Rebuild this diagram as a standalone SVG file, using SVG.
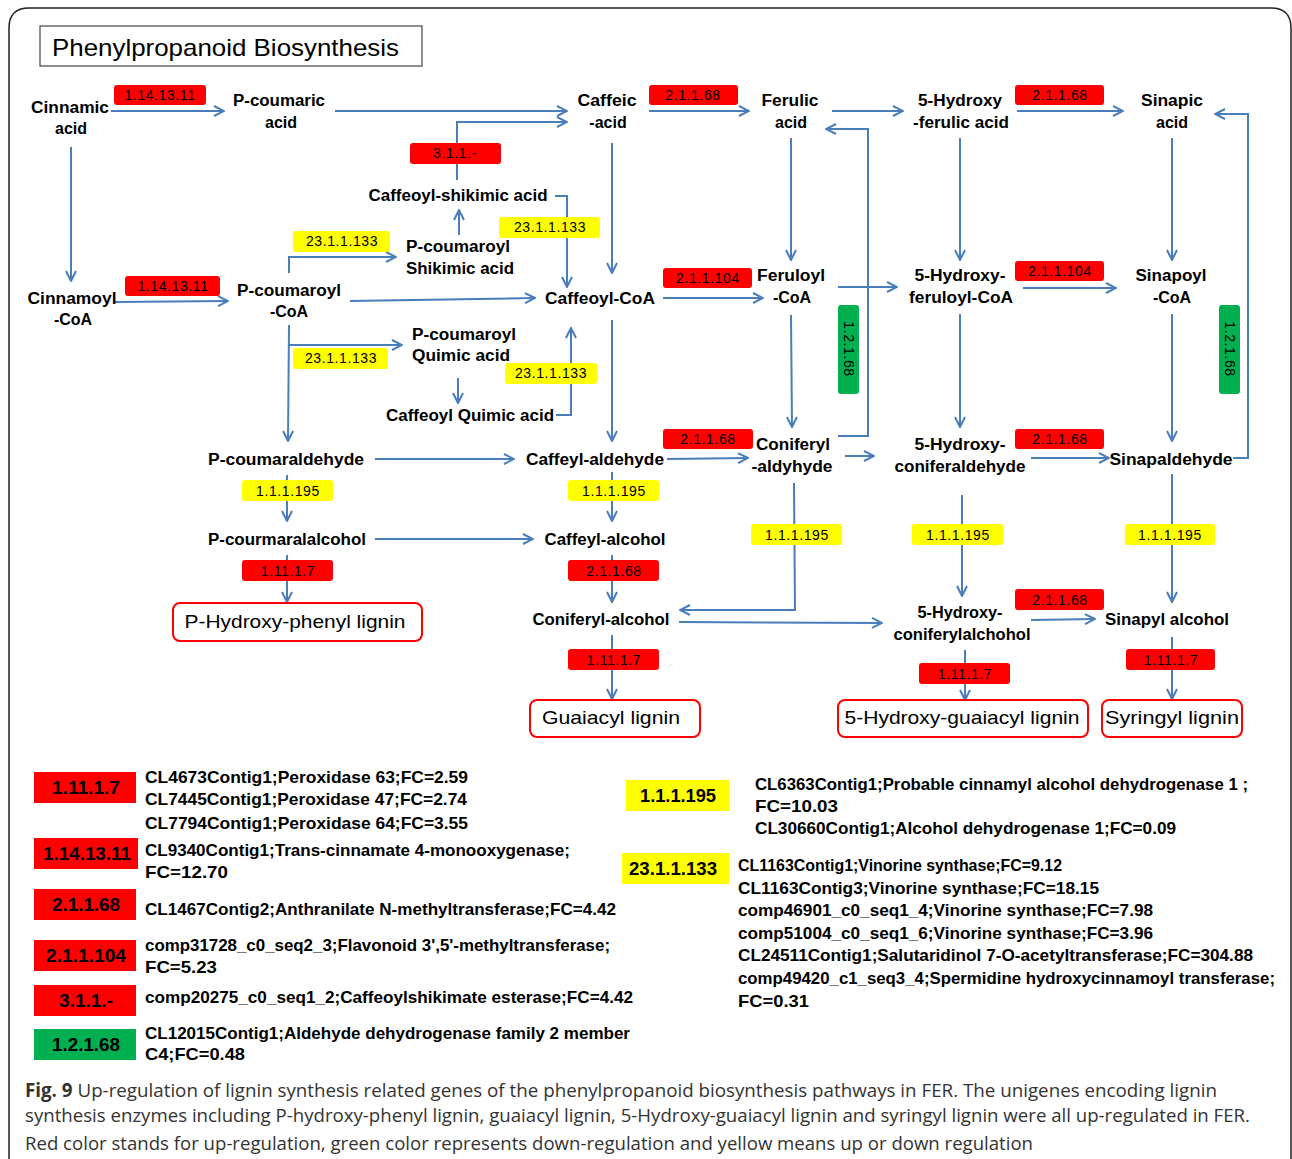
<svg xmlns="http://www.w3.org/2000/svg" width="1292" height="1159" viewBox="0 0 1292 1159">
<defs>
<marker id="ah" viewBox="0 0 12 12" refX="11" refY="6" markerWidth="12" markerHeight="12" markerUnits="userSpaceOnUse" orient="auto">
<path d="M1,1 L11,6 L1,11" fill="none" stroke="#4A7EBB" stroke-width="2"/>
</marker>
<style>
.lbl{font-family:"Liberation Sans",Arial,sans-serif;font-weight:bold;font-size:16px;fill:#000;text-anchor:middle}
.ec{font-family:"Liberation Sans",Arial,sans-serif;font-size:14px;fill:#000;text-anchor:middle;letter-spacing:0.6px}
.red{fill:#FF0000}
.yel{fill:#FFFF00}
.grn{fill:#00B050}
.conn path{fill:none;stroke:#4A7EBB;stroke-width:2;marker-end:url(#ah)}
.lig rect{fill:#fff;stroke:#FF0000;stroke-width:2}
.lig text{font-family:"Liberation Sans",Arial,sans-serif;font-size:19px;fill:#000;text-anchor:middle}
.lg{font-family:"Liberation Sans",Arial,sans-serif;font-weight:bold;font-size:17px;fill:#000}
.lgb{font-family:"Liberation Sans",Arial,sans-serif;font-weight:bold;font-size:18px;fill:#000;text-anchor:middle}
.cap{font-family:"Open Sans","Liberation Sans",sans-serif;font-size:19px;fill:#333}
</style>
</defs>
<rect width="1292" height="1159" fill="#fff"/>
<path d="M9,1162 V28 Q9,8 29,8 H1271 Q1291,8 1291,28 V1162" fill="none" stroke="#222" stroke-width="1.5"/>
<g id="title">
<rect x="40" y="26" width="382" height="40" fill="#fff" stroke="#444" stroke-width="1.2"/>
<text x="52" y="56" font-family="Liberation Sans,Arial,sans-serif" font-size="24" textLength="347" lengthAdjust="spacingAndGlyphs">Phenylpropanoid Biosynthesis</text>
</g>

<g class="conn" id="connectors">
<path d="M111,111 H224"/>
<path d="M71,147 V281"/>
<path d="M335,111 H567"/>
<path d="M457,180 V122 H567"/>
<path d="M649,111 H749"/>
<path d="M832,111 H903"/>
<path d="M1017,111 H1123"/>
<path d="M612,143 V273"/>
<path d="M791,138 V260"/>
<path d="M960,138 V260"/>
<path d="M1172,138 V260"/>
<path d="M115,302 L228,301"/>
<path d="M350,301 L535,298"/>
<path d="M663,298 H763"/>
<path d="M838,287 H897"/>
<path d="M1023,288 H1116"/>
<path d="M289,273 V257 H396"/>
<path d="M459,235 V210"/>
<path d="M555,196 H567 V287"/>
<path d="M289,325 L288,441"/>
<path d="M289,345 H402"/>
<path d="M458,378 V403"/>
<path d="M556,415 H571 V328"/>
<path d="M612,320 V441"/>
<path d="M791,315 L792,427"/>
<path d="M960,314 V427"/>
<path d="M1172,314 V441"/>
<path d="M838,436 H868 V129 H826"/>
<path d="M1233,458 H1248 V114 H1215"/>
<path d="M375,459 H514"/>
<path d="M667,459 L748,458"/>
<path d="M845,456 H874"/>
<path d="M1031,458 H1109"/>
<path d="M287,475 V521"/>
<path d="M612,472 V521"/>
<path d="M375,539 H533"/>
<path d="M794,483 L795,610 H680"/>
<path d="M962,495 V596"/>
<path d="M1172,474 V602"/>
<path d="M287,555 V602"/>
<path d="M612,555 V602"/>
<path d="M679,622 L882,623"/>
<path d="M1031,620 L1095,619"/>
<path d="M612,635 V699"/>
<path d="M965,650 V700"/>
<path d="M1172,637 V699"/>
</g>

<g id="n-cinnamic-acid"><text class="lbl" x="70" y="113" textLength="78" lengthAdjust="spacingAndGlyphs">Cinnamic</text><text class="lbl" x="71" y="134">acid</text></g>
<g id="n-pcoumaric-acid"><text class="lbl" x="279" y="106" textLength="92" lengthAdjust="spacingAndGlyphs">P-coumaric</text><text class="lbl" x="281" y="128">acid</text></g>
<g id="n-caffeic-acid"><text class="lbl" x="607" y="106" textLength="59" lengthAdjust="spacingAndGlyphs">Caffeic</text><text class="lbl" x="608" y="128">-acid</text></g>
<g id="n-ferulic-acid"><text class="lbl" x="790" y="106" textLength="57" lengthAdjust="spacingAndGlyphs">Ferulic</text><text class="lbl" x="791" y="128">acid</text></g>
<g id="n-5hydroxy-ferulic"><text class="lbl" x="960" y="106" textLength="84" lengthAdjust="spacingAndGlyphs">5-Hydroxy</text><text class="lbl" x="961" y="128" textLength="96" lengthAdjust="spacingAndGlyphs">-ferulic acid</text></g>
<g id="n-sinapic-acid"><text class="lbl" x="1172" y="106" textLength="62" lengthAdjust="spacingAndGlyphs">Sinapic</text><text class="lbl" x="1172" y="128">acid</text></g>

<g id="n-cinnamoyl-coa"><text class="lbl" x="72" y="304" textLength="89" lengthAdjust="spacingAndGlyphs">Cinnamoyl</text><text class="lbl" x="73" y="325">-CoA</text></g>
<g id="n-pcoumaroyl-coa"><text class="lbl" x="289" y="296" textLength="104" lengthAdjust="spacingAndGlyphs">P-coumaroyl</text><text class="lbl" x="289" y="317">-CoA</text></g>
<g id="n-caffeoyl-coa"><text class="lbl" x="600" y="304" textLength="110" lengthAdjust="spacingAndGlyphs">Caffeoyl-CoA</text></g>
<g id="n-feruloyl-coa"><text class="lbl" x="791" y="281" textLength="68" lengthAdjust="spacingAndGlyphs">Feruloyl</text><text class="lbl" x="792" y="303">-CoA</text></g>
<g id="n-5hydroxy-feruloyl-coa"><text class="lbl" x="960" y="281" textLength="91" lengthAdjust="spacingAndGlyphs">5-Hydroxy-</text><text class="lbl" x="961" y="303" textLength="104" lengthAdjust="spacingAndGlyphs">feruloyl-CoA</text></g>
<g id="n-sinapoyl-coa"><text class="lbl" x="1171" y="281" textLength="71" lengthAdjust="spacingAndGlyphs">Sinapoyl</text><text class="lbl" x="1172" y="303">-CoA</text></g>

<g id="n-pcoumaroyl-shikimic"><text class="lbl" x="458" y="252" textLength="104" lengthAdjust="spacingAndGlyphs">P-coumaroyl</text><text class="lbl" x="460" y="274" textLength="108" lengthAdjust="spacingAndGlyphs">Shikimic acid</text></g>
<g id="n-caffeoyl-shikimic"><text class="lbl" x="458" y="201" textLength="179" lengthAdjust="spacingAndGlyphs">Caffeoyl-shikimic acid</text></g>
<g id="n-pcoumaroyl-quimic"><text class="lbl" x="464" y="340" textLength="104" lengthAdjust="spacingAndGlyphs">P-coumaroyl</text><text class="lbl" x="461" y="361" textLength="98" lengthAdjust="spacingAndGlyphs">Quimic acid</text></g>
<g id="n-caffeoyl-quimic"><text class="lbl" x="470" y="421" textLength="168" lengthAdjust="spacingAndGlyphs">Caffeoyl Quimic acid</text></g>

<g id="n-pcoumaraldehyde"><text class="lbl" x="286" y="465" textLength="156" lengthAdjust="spacingAndGlyphs">P-coumaraldehyde</text></g>
<g id="n-caffeyl-aldehyde"><text class="lbl" x="595" y="465" textLength="138" lengthAdjust="spacingAndGlyphs">Caffeyl-aldehyde</text></g>
<g id="n-coniferyl-aldyhyde"><text class="lbl" x="793" y="450" textLength="74" lengthAdjust="spacingAndGlyphs">Coniferyl</text><text class="lbl" x="792" y="472" textLength="81" lengthAdjust="spacingAndGlyphs">-aldyhyde</text></g>
<g id="n-5hydroxy-coniferaldehyde"><text class="lbl" x="960" y="450" textLength="91" lengthAdjust="spacingAndGlyphs">5-Hydroxy-</text><text class="lbl" x="960" y="472" textLength="131" lengthAdjust="spacingAndGlyphs">coniferaldehyde</text></g>
<g id="n-sinapaldehyde"><text class="lbl" x="1171" y="465" textLength="123" lengthAdjust="spacingAndGlyphs">Sinapaldehyde</text></g>

<g id="n-pcourmaralalcohol"><text class="lbl" x="287" y="545" textLength="158" lengthAdjust="spacingAndGlyphs">P-courmaralalcohol</text></g>
<g id="n-caffeyl-alcohol"><text class="lbl" x="605" y="545" textLength="121" lengthAdjust="spacingAndGlyphs">Caffeyl-alcohol</text></g>
<g id="n-coniferyl-alcohol"><text class="lbl" x="601" y="625" textLength="137" lengthAdjust="spacingAndGlyphs">Coniferyl-alcohol</text></g>
<g id="n-5hydroxy-coniferylalchohol"><text class="lbl" x="960" y="618" textLength="85" lengthAdjust="spacingAndGlyphs">5-Hydroxy-</text><text class="lbl" x="962" y="640" textLength="137" lengthAdjust="spacingAndGlyphs">coniferylalchohol</text></g>
<g id="n-sinapyl-alcohol"><text class="lbl" x="1167" y="625" textLength="124" lengthAdjust="spacingAndGlyphs">Sinapyl alcohol</text></g>

<g class="lig" id="n-phydroxyphenyl-lignin"><rect x="173" y="603" width="249" height="38" rx="7"/><text x="295" y="628" textLength="221" lengthAdjust="spacingAndGlyphs">P-Hydroxy-phenyl lignin</text></g>
<g class="lig" id="n-guaiacyl-lignin"><rect x="530" y="700" width="170" height="37" rx="7"/><text x="611" y="724" textLength="138" lengthAdjust="spacingAndGlyphs">Guaiacyl lignin</text></g>
<g class="lig" id="n-5hydroxyguaiacyl-lignin"><rect x="838" y="700" width="250" height="37" rx="7"/><text x="962" y="724" textLength="235" lengthAdjust="spacingAndGlyphs">5-Hydroxy-guaiacyl lignin</text></g>
<g class="lig" id="n-syringyl-lignin"><rect x="1102" y="700" width="140" height="37" rx="7"/><text x="1172" y="724" textLength="134" lengthAdjust="spacingAndGlyphs">Syringyl lignin</text></g>

<g id="enzymes">
<g id="e1"><rect class="red" x="114" y="85" width="92" height="20" rx="3"/><text class="ec" x="160" y="100">1.14.13.11</text></g>
<g id="e2"><rect class="red" x="649" y="85" width="89" height="20" rx="3"/><text class="ec" x="693" y="100">2.1.1.68</text></g>
<g id="e3"><rect class="red" x="1015" y="85" width="89" height="20" rx="3"/><text class="ec" x="1060" y="100">2.1.1.68</text></g>
<g id="e4"><rect class="red" x="410" y="143" width="91" height="21" rx="3"/><text class="ec" x="455" y="158">3.1.1.-</text></g>
<g id="e5"><rect class="yel" x="499" y="217" width="101" height="21" rx="3"/><text class="ec" x="550" y="232">23.1.1.133</text></g>
<g id="e6"><rect class="yel" x="293" y="231" width="97" height="21" rx="3"/><text class="ec" x="342" y="246">23.1.1.133</text></g>
<g id="e7"><rect class="red" x="125" y="276" width="95" height="20" rx="3"/><text class="ec" x="173" y="291">1.14.13.11</text></g>
<g id="e8"><rect class="red" x="663" y="268" width="89" height="20" rx="3"/><text class="ec" x="708" y="283">2.1.1.104</text></g>
<g id="e9"><rect class="red" x="1015" y="261" width="89" height="20" rx="3"/><text class="ec" x="1060" y="276">2.1.1.104</text></g>
<g id="e10"><rect class="yel" x="293" y="348" width="95" height="21" rx="3"/><text class="ec" x="341" y="363">23.1.1.133</text></g>
<g id="e11"><rect class="yel" x="505" y="363" width="92" height="21" rx="3"/><text class="ec" x="551" y="378">23.1.1.133</text></g>
<g id="e12"><rect class="grn" x="838" y="305" width="21" height="89" rx="3"/><text class="ec" transform="translate(844,349) rotate(90)" x="0" y="0">1.2.1.68</text></g>
<g id="e13"><rect class="grn" x="1219" y="305" width="21" height="89" rx="3"/><text class="ec" transform="translate(1225,349) rotate(90)" x="0" y="0">1.2.1.68</text></g>
<g id="e14"><rect class="red" x="663" y="429" width="90" height="20" rx="3"/><text class="ec" x="708" y="444">2.1.1.68</text></g>
<g id="e15"><rect class="red" x="1015" y="429" width="89" height="20" rx="3"/><text class="ec" x="1060" y="444">2.1.1.68</text></g>
<g id="e16"><rect class="yel" x="242" y="480" width="91" height="21" rx="3"/><text class="ec" x="288" y="496">1.1.1.195</text></g>
<g id="e17"><rect class="yel" x="568" y="480" width="91" height="21" rx="3"/><text class="ec" x="614" y="496">1.1.1.195</text></g>
<g id="e18"><rect class="yel" x="751" y="524" width="91" height="21" rx="3"/><text class="ec" x="797" y="540">1.1.1.195</text></g>
<g id="e19"><rect class="yel" x="912" y="524" width="91" height="21" rx="3"/><text class="ec" x="958" y="540">1.1.1.195</text></g>
<g id="e20"><rect class="yel" x="1125" y="524" width="90" height="21" rx="3"/><text class="ec" x="1170" y="540">1.1.1.195</text></g>
<g id="e21"><rect class="red" x="242" y="560" width="91" height="21" rx="3"/><text class="ec" x="288" y="576">1.11.1.7</text></g>
<g id="e22"><rect class="red" x="568" y="560" width="91" height="21" rx="3"/><text class="ec" x="614" y="576">2.1.1.68</text></g>
<g id="e23"><rect class="red" x="1015" y="589" width="89" height="21" rx="3"/><text class="ec" x="1060" y="605">2.1.1.68</text></g>
<g id="e24"><rect class="red" x="568" y="649" width="91" height="21" rx="3"/><text class="ec" x="614" y="665">1.11.1.7</text></g>
<g id="e25"><rect class="red" x="919" y="663" width="91" height="21" rx="3"/><text class="ec" x="965" y="679">1.11.1.7</text></g>
<g id="e26"><rect class="red" x="1126" y="649" width="89" height="21" rx="3"/><text class="ec" x="1171" y="665">1.11.1.7</text></g>
</g>

<g id="legend">
<rect class="red" x="34" y="772" width="102" height="31"/><text class="lgb" x="86" y="794" textLength="68" lengthAdjust="spacingAndGlyphs">1.11.1.7</text>
<text class="lg" x="145" y="783" textLength="323" lengthAdjust="spacingAndGlyphs">CL4673Contig1;Peroxidase 63;FC=2.59</text>
<text class="lg" x="145" y="805" textLength="322" lengthAdjust="spacingAndGlyphs">CL7445Contig1;Peroxidase 47;FC=2.74</text>
<text class="lg" x="145" y="829" textLength="323" lengthAdjust="spacingAndGlyphs">CL7794Contig1;Peroxidase 64;FC=3.55</text>
<rect class="red" x="34" y="838" width="104" height="31"/><text class="lgb" x="87" y="860" textLength="88" lengthAdjust="spacingAndGlyphs">1.14.13.11</text>
<text class="lg" x="145" y="856" textLength="425" lengthAdjust="spacingAndGlyphs">CL9340Contig1;Trans-cinnamate 4-monooxygenase;</text>
<text class="lg" x="145" y="878" textLength="83" lengthAdjust="spacingAndGlyphs">FC=12.70</text>
<rect class="red" x="34" y="889" width="102" height="31"/><text class="lgb" x="86" y="911" textLength="68" lengthAdjust="spacingAndGlyphs">2.1.1.68</text>
<text class="lg" x="145" y="915" textLength="471" lengthAdjust="spacingAndGlyphs">CL1467Contig2;Anthranilate N-methyltransferase;FC=4.42</text>
<rect class="red" x="34" y="940" width="102" height="31"/><text class="lgb" x="86" y="962" textLength="80" lengthAdjust="spacingAndGlyphs">2.1.1.104</text>
<text class="lg" x="145" y="951" textLength="465" lengthAdjust="spacingAndGlyphs">comp31728_c0_seq2_3;Flavonoid 3',5'-methyltransferase;</text>
<text class="lg" x="145" y="973" textLength="72" lengthAdjust="spacingAndGlyphs">FC=5.23</text>
<rect class="red" x="34" y="985" width="102" height="31"/><text class="lgb" x="86" y="1007" textLength="54" lengthAdjust="spacingAndGlyphs">3.1.1.-</text>
<text class="lg" x="145" y="1003" textLength="488" lengthAdjust="spacingAndGlyphs">comp20275_c0_seq1_2;Caffeoylshikimate esterase;FC=4.42</text>
<rect class="grn" x="34" y="1029" width="102" height="31"/><text class="lgb" x="86" y="1051" textLength="68" lengthAdjust="spacingAndGlyphs">1.2.1.68</text>
<text class="lg" x="145" y="1039" textLength="485" lengthAdjust="spacingAndGlyphs">CL12015Contig1;Aldehyde dehydrogenase family 2 member</text>
<text class="lg" x="145" y="1060" textLength="100" lengthAdjust="spacingAndGlyphs">C4;FC=0.48</text>

<rect class="yel" x="626" y="780" width="103" height="31"/><text class="lgb" x="678" y="802" textLength="76" lengthAdjust="spacingAndGlyphs">1.1.1.195</text>
<text class="lg" x="755" y="790" textLength="493" lengthAdjust="spacingAndGlyphs">CL6363Contig1;Probable cinnamyl alcohol dehydrogenase 1 ;</text>
<text class="lg" x="755" y="812" textLength="83" lengthAdjust="spacingAndGlyphs">FC=10.03</text>
<text class="lg" x="755" y="834" textLength="421" lengthAdjust="spacingAndGlyphs">CL30660Contig1;Alcohol dehydrogenase 1;FC=0.09</text>
<rect class="yel" x="622" y="853" width="107" height="31"/><text class="lgb" x="673" y="875" textLength="88" lengthAdjust="spacingAndGlyphs">23.1.1.133</text>
<text class="lg" x="738" y="871" textLength="324" lengthAdjust="spacingAndGlyphs">CL1163Contig1;Vinorine synthase;FC=9.12</text>
<text class="lg" x="738" y="894" textLength="361" lengthAdjust="spacingAndGlyphs">CL1163Contig3;Vinorine synthase;FC=18.15</text>
<text class="lg" x="738" y="916" textLength="415" lengthAdjust="spacingAndGlyphs">comp46901_c0_seq1_4;Vinorine synthase;FC=7.98</text>
<text class="lg" x="738" y="939" textLength="415" lengthAdjust="spacingAndGlyphs">comp51004_c0_seq1_6;Vinorine synthase;FC=3.96</text>
<text class="lg" x="738" y="961" textLength="515" lengthAdjust="spacingAndGlyphs">CL24511Contig1;Salutaridinol 7-O-acetyltransferase;FC=304.88</text>
<text class="lg" x="738" y="984" textLength="537" lengthAdjust="spacingAndGlyphs">comp49420_c1_seq3_4;Spermidine hydroxycinnamoyl transferase;</text>
<text class="lg" x="738" y="1007" textLength="71" lengthAdjust="spacingAndGlyphs">FC=0.31</text>
</g>

<g id="caption">
<text class="cap" x="25" y="1097" textLength="1192" lengthAdjust="spacingAndGlyphs"><tspan font-weight="bold">Fig. 9</tspan> Up-regulation of lignin synthesis related genes of the phenylpropanoid biosynthesis pathways in FER. The unigenes encoding lignin</text>
<text class="cap" x="25" y="1122" textLength="1225" lengthAdjust="spacingAndGlyphs">synthesis enzymes including P-hydroxy-phenyl lignin, guaiacyl lignin, 5-Hydroxy-guaiacyl lignin and syringyl lignin were all up-regulated in FER.</text>
<text class="cap" x="25" y="1150" textLength="1008" lengthAdjust="spacingAndGlyphs">Red color stands for up-regulation, green color represents down-regulation and yellow means up or down regulation</text>
</g>
</svg>
